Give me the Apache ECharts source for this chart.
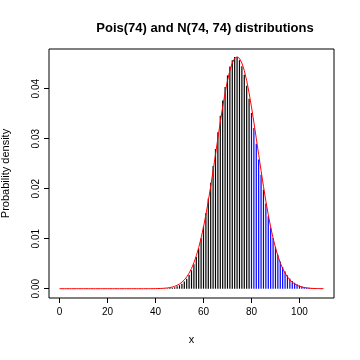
<!DOCTYPE html>
<html><head><meta charset="utf-8">
<script src="https://cdn.jsdelivr.net/npm/echarts@6/dist/echarts.min.js"></script>
<style>html,body{margin:0;padding:0;background:#fff}#c{width:360px;height:360px}</style>
</head><body><div id="c"></div>
<script>
const xValues = [0,1,2,3,4,5,6,7,8,9,10,11,12,13,14,15,16,17,18,19,20,21,22,23,24,25,26,27,28,29,30,31,32,33,34,35,36,37,38,39,40,41,42,43,44,45,46,47,48,49,50,51,52,53,54,55,56,57,58,59,60,61,62,63,64,65,66,67,68,69,70,71,72,73,74,75,76,77,78,79,80,81,82,83,84,85,86,87,88,89,90,91,92,93,94,95,96,97,98,99,100,101,102,103,104,105,106,107,108,109,110];
const poisProb = [0,0,0,0,0,0,0,0,0,0, 0,0,0,0,0,0,0,0,0,0, 0,0,0,0,0,0,0,0,0,0, 0,0,0,0,0,0,0,0,0,0,
  0, 0.0000095, 0.0000167, 0.0000287, 0.0000483, 0.0000795, 0.000128, 0.000201, 0.000310, 0.000468,
  0.000693, 0.001005, 0.001430, 0.001997, 0.002737, 0.003683, 0.004867, 0.006319, 0.008062, 0.010112,
  0.012472, 0.015130, 0.018058, 0.021211, 0.024525, 0.027921, 0.031305, 0.034576, 0.037627, 0.040354,
  0.042660, 0.044463, 0.045698, 0.046324, 0.046324, 0.045706, 0.044503, 0.042769, 0.040576, 0.038008,
  0.035157, 0.032119, 0.028985, 0.025842, 0.022766, 0.019820, 0.017054, 0.014506, 0.012198, 0.010142,
  0.008339, 0.006781, 0.005454, 0.004340, 0.003417, 0.002662, 0.002052, 0.001565, 0.001182, 0.000883,
  0.000654, 0.000479, 0.000348, 0.000250, 0.000178, 0.000125, 0.0000875, 0.0000605, 0.0000415, 0.0000282,
  0.0000190];
const normDens = [0,0,0,0,0,0,0,0,0,0, 0,0,0,0,0,0,0,0,0,0, 0,0,0,0,0,0,0,0,0,0, 0,0,0,0,0,0,0,0,
  0.0000073, 0.0000118,
  0.0000188, 0.0000296, 0.0000459, 0.0000702, 0.000106, 0.000158, 0.000232, 0.000337, 0.000482, 0.000680,
  0.000946, 0.001300, 0.001762, 0.002357, 0.003109, 0.004047, 0.005196, 0.006581, 0.008224, 0.010140,
  0.012335, 0.014803, 0.017528, 0.020476, 0.023597, 0.026829, 0.030094, 0.033305, 0.036362, 0.039168,
  0.041624, 0.043640, 0.045139, 0.046064, 0.046376, 0.046064, 0.045139, 0.043640, 0.041624, 0.039168,
  0.036362, 0.033305, 0.030094, 0.026829, 0.023597, 0.020476, 0.017528, 0.014803, 0.012335, 0.010140,
  0.008224, 0.006581, 0.005196, 0.004047, 0.003109, 0.002357, 0.001762, 0.001300, 0.000946, 0.000680,
  0.000482, 0.000337, 0.000232, 0.000158, 0.000106, 0.0000702, 0.0000459, 0.0000296, 0.0000188, 0.0000118,
  0.0000073];
const xTicks = [0, 20, 40, 60, 80, 100];
const yTicks = [0, 0.01, 0.02, 0.03, 0.04];
const blueFrom = 80;

const FONT = 'Liberation Sans, Arial, Helvetica, sans-serif';
const chart = echarts.init(document.getElementById('c'), null, {renderer: 'canvas'});
chart.setOption({
  animation: false,
  title: {
    text: 'Pois(74) and N(74, 74) distributions',
    left: 200, top: 17, textAlign: 'center',
    textStyle: {fontFamily: FONT, fontSize: 13, fontWeight: 'bold', color: '#000'}
  },
  grid: {left: 49, right: 26, top: 49, bottom: 62, show: true, borderColor: '#000', borderWidth: 1,
    backgroundColor: 'transparent', containLabel: false, outerBoundsMode: 'none'},
  xAxis: {
    type: 'value', min: -4.4, max: 114.4,
    axisLine: {show: false, onZero: false},
    splitLine: {show: false},
    axisTick: {show: true, inside: false, length: 5, customValues: xTicks, lineStyle: {color: '#000'}},
    axisLabel: {customValues: xTicks, fontFamily: FONT, fontSize: 10, color: '#000', margin: 9},
    name: 'x', nameLocation: 'middle', nameGap: 36,
    nameTextStyle: {fontFamily: FONT, fontSize: 11, color: '#000'}
  },
  yAxis: {
    type: 'value', min: -0.00186, max: 0.04794,
    axisLine: {show: false, onZero: false},
    splitLine: {show: false},
    axisTick: {show: true, inside: false, length: 5, customValues: yTicks, lineStyle: {color: '#000'}},
    axisLabel: {customValues: yTicks, rotate: 90, fontFamily: FONT, fontSize: 10, color: '#000', margin: 8,
      formatter: v => v.toFixed(2)},
    name: 'Probability density', nameLocation: 'middle', nameGap: 38,
    nameTextStyle: {fontFamily: FONT, fontSize: 11, color: '#000'}
  },
  series: [
    {
      type: 'custom',
      data: xValues.map((x, i) => [x, poisProb[i]]),
      renderItem: function (params, api) {
        const x = api.value(0), y = api.value(1);
        const p0 = api.coord([x, 0]), p1 = api.coord([x, y]);
        return {type: 'line', shape: {x1: p0[0], y1: p0[1], x2: p1[0], y2: p1[1]},
          style: {stroke: x >= blueFrom ? '#0000ff' : '#000000', lineWidth: 1.2}};
      },
      z: 2
    },
    {
      type: 'line',
      data: xValues.map((x, i) => [x, normDens[i]]),
      showSymbol: false, symbol: 'none',
      lineStyle: {color: '#ff0000', width: 1},
      z: 3
    }
  ]
});
</script></body></html>
